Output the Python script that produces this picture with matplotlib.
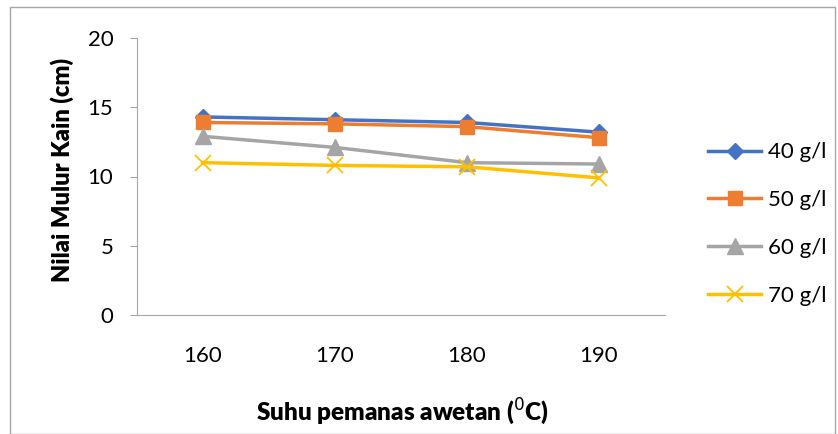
import matplotlib.pyplot as plt
from matplotlib.patches import Rectangle

suhu = ['160', '170', '180', '190']
s40 = [14.3, 14.1, 13.9, 13.2]
s50 = [13.9, 13.8, 13.6, 12.8]
s60 = [12.9, 12.1, 11.0, 10.9]
s70 = [11.0, 10.8, 10.7, 9.9]

plt.rcParams['font.family'] = ['Lato', 'DejaVu Sans']

fig = plt.figure(figsize=(8.38, 4.34), dpi=100)
# grey chart-area border
fig.patches.append(Rectangle((10 / 838, 0), 825 / 838, 1 - 7 / 434,
                             transform=fig.transFigure, fill=False,
                             edgecolor='#a6a6a6', linewidth=1))
ax = fig.add_axes([137 / 838, 1 - 315 / 434, 528 / 838, 277 / 434])

x = range(len(suhu))
ax.plot(x, s40, color='#4472c4', marker='D', markersize=8, linewidth=2.5, label='40 g/l')
ax.plot(x, s50, color='#ed7d31', marker='s', markersize=10, linewidth=2.5, label='50 g/l')
ax.plot(x, s60, color='#a5a5a5', marker='^', markersize=11, linewidth=2.5, label='60 g/l')
ax.plot(x, s70, color='#ffc000', marker='x', markersize=11, markeredgewidth=1.3,
        linewidth=2.5, label='70 g/l')

ax.set_xlim(-0.5, 3.5)
ax.set_ylim(0, 20)
ax.set_yticks([0, 5, 10, 15, 20])
ax.set_xticks(list(x))
ax.set_xticklabels(suhu)
for s in ['top', 'right']:
    ax.spines[s].set_visible(False)
ax.spines['left'].set_color('#a6a6a6')
ax.spines['bottom'].set_color('#a6a6a6')
ax.tick_params(axis='y', length=5, color='#a6a6a6', labelsize=16, pad=12)
ax.tick_params(axis='x', length=0, labelsize=16, pad=22)

fig.text(62 / 838, 1 - 170 / 434, 'Nilai Mulur Kain (cm)', rotation=90,
         ha='center', va='center', fontsize=17, fontweight='heavy')
fig.text(402 / 838, 1 - 412 / 434, 'Suhu pemanas awetan ($^0$C)',
         ha='center', va='center', fontsize=17.5, fontweight='heavy')

fig.legend(loc='center left', bbox_to_anchor=(688 / 838, 1 - 224 / 434),
           frameon=False, fontsize=16, labelspacing=1.25, handlelength=2.4,
           handletextpad=0.3)

plt.savefig('out.png', dpi=100)
